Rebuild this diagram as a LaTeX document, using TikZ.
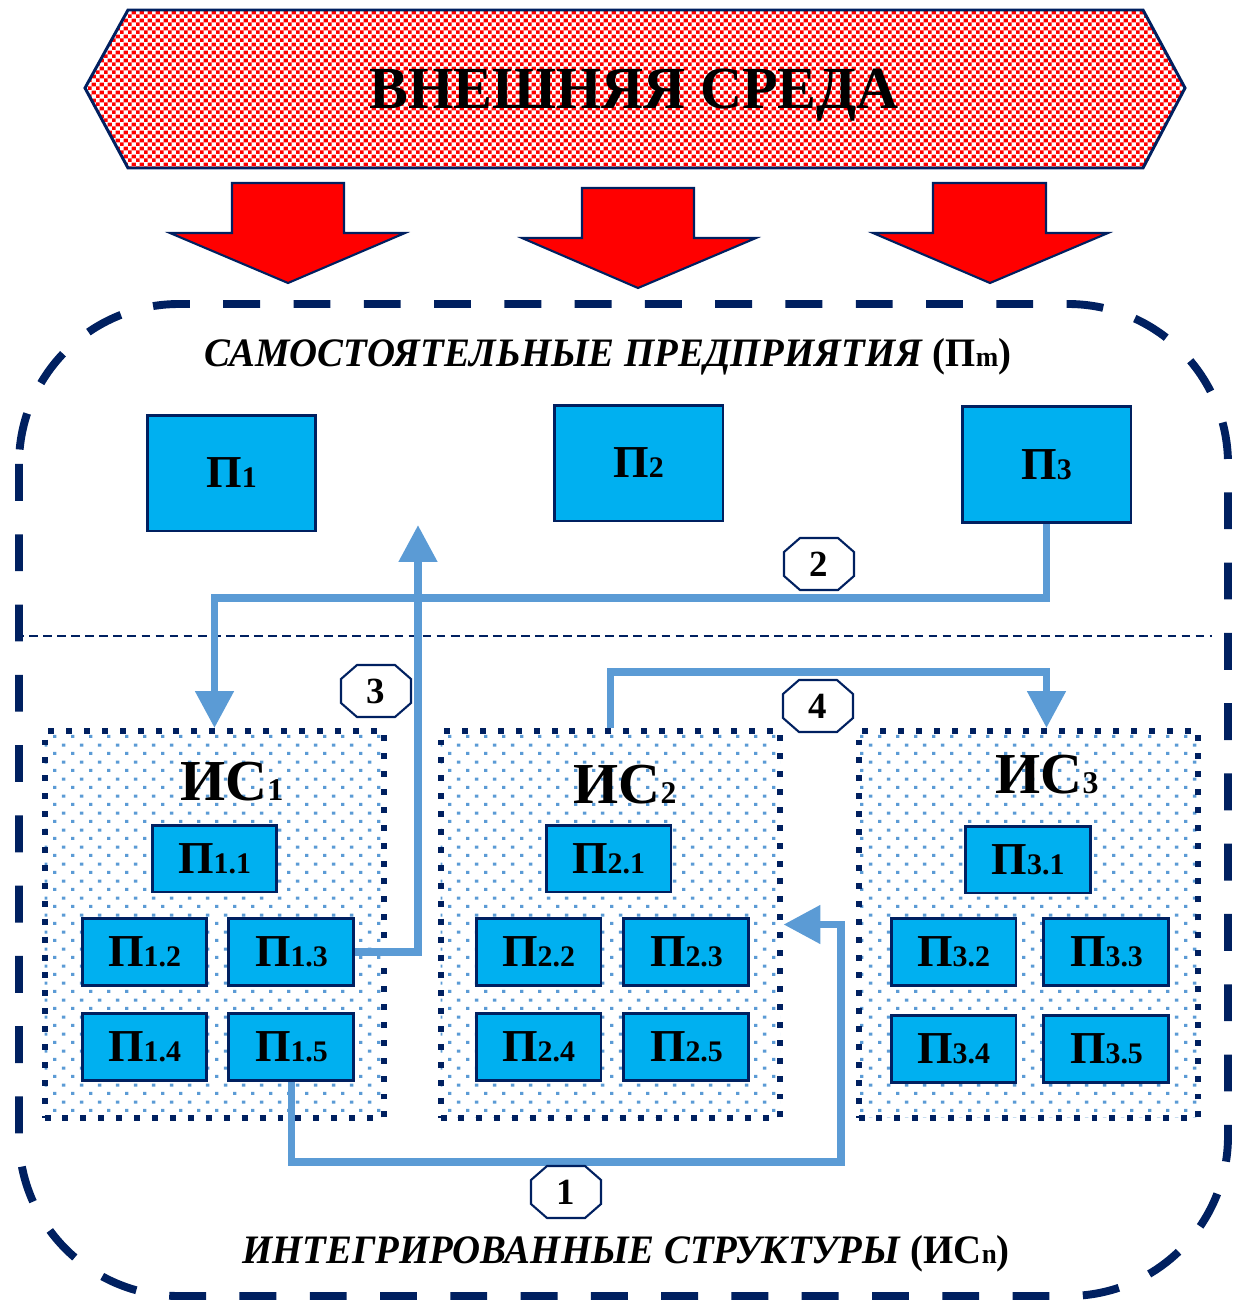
\documentclass[tikz,border=0pt]{standalone}
\usepackage{fontspec}
\setmainfont{Liberation Serif}
\usepackage{tikz}
\usetikzlibrary{arrows.meta, positioning, patterns.meta}
\definecolor{navy}{RGB}{0,32,96}
\definecolor{entCyan}{RGB}{0,176,240}
\definecolor{linkBlue}{RGB}{91,155,213}
\definecolor{envRed}{RGB}{255,0,0}
\tikzdeclarepattern{name=redcheck, type=colored,
    bounding box={(0pt,0pt) and (4.6pt,4.6pt)}, tile size={(4.6pt,4.6pt)},
    code={\fill[envRed] (0pt,0pt) rectangle (2.3pt,2.3pt);
          \fill[envRed] (2.3pt,2.3pt) rectangle (4.6pt,4.6pt);}}
\tikzdeclarepattern{name=bluedots, type=colored,
    bounding box={(0pt,0pt) and (10.2pt,9.8pt)}, tile size={(10.2pt,9.8pt)},
    code={\fill[linkBlue] (0pt,0pt) rectangle (1.9pt,1.9pt);
          \fill[linkBlue] (5.1pt,4.9pt) rectangle (7pt,6.8pt);}}
\newcommand\pname[1]{{\fontsize{26}{28}\selectfont П}{\fontsize{17}{18}\selectfont #1}}
\newcommand\isname[1]{{\fontsize{33}{34}\selectfont ИС}{\fontsize{18}{19}\selectfont #1}}
\tikzset{
    ent/.style={rectangle, draw=navy, line width=1.7pt, fill=entCyan, inner sep=0pt,
                minimum width=3.38cm, minimum height=2.32cm, font=\bfseries},
    sub/.style={ent, minimum width=2.5cm, minimum height=1.34cm},
    group/.style={rectangle, draw=navy, line width=3.4pt, dash pattern=on 3.4pt off 6.8pt,
                  pattern=bluedots, minimum width=6.8cm, minimum height=7.74cm},
    push/.style={draw=navy, line width=1.2pt, fill=envRed, line join=miter},
    envband/.style={draw=navy, line width=1.7pt, pattern=redcheck},
    frame/.style={draw=navy, line width=4.5pt, dash pattern=on 21pt off 19pt, rounded corners=3.2cm},
    divider/.style={draw=navy, line width=1.4pt, dash pattern=on 5pt off 3pt},
    link/.style={-{Triangle[length=21pt, width=21pt]}, line width=4.5pt, draw=linkBlue},
    badge/.style={draw=navy, line width=1.2pt, fill=white},
    badgetxt/.style={inner sep=0pt, font=\bfseries\fontsize{21}{22}\selectfont},
    title/.style={font=\bfseries\fontsize{23}{25}\selectfont}
}
\begin{document}
\begin{tikzpicture}[x=0.02cm, y=-0.02cm, node distance=0.5cm and 0.38cm]
    \useasboundingbox (0,0) rectangle (1240,1301);

    % External environment
    \draw[envband] (85,88) -- (128,10) -- (1143,10) -- (1185,88) -- (1143,168) -- (128,168) -- cycle;
    \node[font=\bfseries\fontsize{34}{36}\selectfont] (env) at (634,95) {\scalebox{0.975}[1]{ВНЕШНЯЯ СРЕДА}};
    \draw[push] (232,183) -- (344,183) -- (344,233) -- (405,233) -- (288,283) -- (170,233) -- (232,233) -- cycle;
    \draw[push] (582,188) -- (694,188) -- (694,238) -- (756,238) -- (638,288) -- (522,238) -- (582,238) -- cycle;
    \draw[push] (933,183) -- (1046,183) -- (1046,233) -- (1108,233) -- (990,283) -- (873,233) -- (933,233) -- cycle;

    % Outer frame and divider
    \draw[frame] (19,304) rectangle (1228,1296);
    \draw[divider] (15,636) -- (1212,636);
    \node[title] (ttop) at (608,357) {\scalebox{0.96}[1]{\textit{САМОСТОЯТЕЛЬНЫЕ ПРЕДПРИЯТИЯ} (П{\fontsize{16}{16}\selectfont m})}};
    \node[title] (tbot) at (626,1254) {\scalebox{0.96}[1]{\textit{ИНТЕГРИРОВАННЫЕ СТРУКТУРЫ} (ИС{\fontsize{16}{16}\selectfont n})}};

    % Independent enterprises
    \node[ent] (p1) at (231.5,473) {\pname{1}};
    \node[ent] (p2) at (638.5,463) {\pname{2}};
    \node[ent] (p3) at (1046.5,464.5) {\pname{3}};

    % Integrated structures
    \node[group] (is1) at (214.5,924.5) {};
    \node[group] (is2) at (610.5,924.5) {};
    \node[group] (is3) at (1028.5,924.5) {};
    \node[font=\bfseries] (is1t) at (232,782) {\isname{1}};
    \node[font=\bfseries] (is2t) at (625,785) {\isname{2}};
    \node[font=\bfseries] (is3t) at (1047,775) {\isname{3}};

    \node[sub] (p11) at (214.5,858.5) {\pname{1.1}};
    \node[sub] (p12) at (144.5,952) {\pname{1.2}};
    \node[sub, right=of p12] (p13) {\pname{1.3}};
    \node[sub, below=of p12] (p14) {\pname{1.4}};
    \node[sub, below=of p13] (p15) {\pname{1.5}};

    \node[sub] (p21) at (608.5,858.5) {\pname{2.1}};
    \node[sub] (p22) at (538.5,952) {\pname{2.2}};
    \node[sub, right=0.4cm of p22] (p23) {\pname{2.3}};
    \node[sub, below=of p22] (p24) {\pname{2.4}};
    \node[sub, below=of p23] (p25) {\pname{2.5}};

    \node[sub] (p31) at (1028,859.5) {\pname{3.1}};
    \node[sub] (p32) at (953.5,952) {\pname{3.2}};
    \node[sub, right=0.5cm of p32] (p33) {\pname{3.3}};
    \node[sub, below=0.54cm of p32] (p34) {\pname{3.4}};
    \node[sub, below=0.54cm of p33] (p35) {\pname{3.5}};

    % Links
    \coordinate (up3) at (418,525);
    \draw[link] (p15.south) -- ++(0,80) -- ++(549.5,0) |- (is2.east);
    \draw[link] (p3.south) -- ++(0,74) -| (is1.north);
    \draw[link] (p13.east) -| (up3);
    \draw[link] (is2.north) -- ++(0,-56) -| (p3.south |- is3.north);

    % Link numbers
    \foreach \b/\x/\y/\num in {b1/566/1192/1, b2/819/564/2, b3/376/691/3, b4/818/706/4} {
        \coordinate (\b-o) at (\x,\y);
        \draw[badge] ([shift={(-0.38cm,0.52cm)}]\b-o) -- ++(0.76cm,0) -- ++(0.32cm,-0.28cm) -- ++(0,-0.48cm)
            -- ++(-0.32cm,-0.28cm) -- ++(-0.76cm,0) -- ++(-0.32cm,0.28cm) -- ++(0,0.48cm) -- cycle;
        \node[badgetxt] (\b) at (\b-o) {\num};
    }
\end{tikzpicture}
\end{document}
